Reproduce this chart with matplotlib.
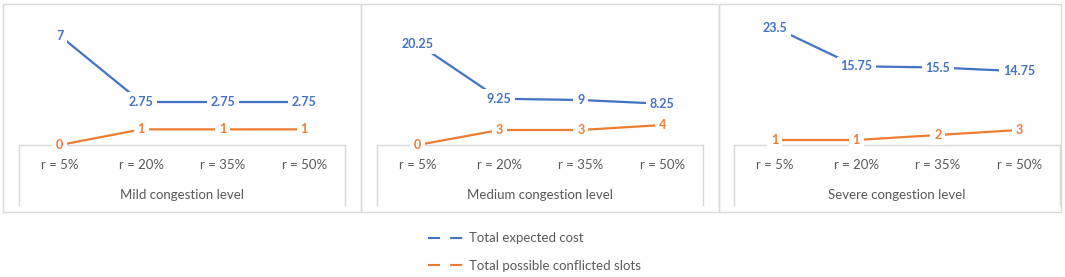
import matplotlib
matplotlib.use("Agg")
import matplotlib.pyplot as plt
from matplotlib.lines import Line2D
from matplotlib.patches import Rectangle
import matplotlib.transforms as mtransforms

plt.rcParams['font.family'] = ['Lato', 'DejaVu Sans']

# data
categories = ["r = 5%", "r = 20%", "r = 35%", "r = 50%"]
groups = ["Mild congestion level", "Medium congestion level", "Severe congestion level"]
expected_cost = [
    [7, 2.75, 2.75, 2.75],
    [20.25, 9.25, 9, 8.25],
    [23.5, 15.75, 15.5, 14.75],
]
conflicted_slots = [
    [0, 1, 1, 1],
    [0, 3, 3, 4],
    [1, 1, 2, 3],
]
series_names = ["Total expected cost", "Total possible conflicted slots"]
ymax = [8, 25, 25]

blue = "#4472C4"
orange = "#ED7D31"
text_grey = "#595959"
border = "#D9D9D9"

W, H = 1065, 277
fig = plt.figure(figsize=(W / 100, H / 100), dpi=100)

# panel frames (pixels)
panels = [(3, 361), (361, 719), (719, 1061)]
for x0, x1 in panels:
    fig.patches.append(Rectangle((x0 / W, 1 - 212 / H), (x1 - x0) / W, (212 - 4) / H,
                                 transform=fig.transFigure, fill=False,
                                 edgecolor=border, linewidth=1))

# plot areas: category box left edges, 326 px wide; y=0 at 145px, top at 20px
box_left = [19, 377, 734]
box_w = 326
y0_px, ytop_px = 145, 20

for k in range(3):
    ax = fig.add_axes([box_left[k] / W, 1 - y0_px / H, box_w / W, (y0_px - ytop_px) / H])
    x = list(range(len(categories)))
    ax.plot(x, expected_cost[k], color=blue, lw=1.6, solid_capstyle="butt", zorder=2)
    ax.plot(x, conflicted_slots[k], color=orange, lw=1.6, solid_capstyle="butt", zorder=2)
    ax.set_xlim(-0.5, 3.5)
    ax.set_ylim(0, ymax[k])
    for s in ax.spines.values():
        s.set_visible(False)
    ax.set_yticks([])
    ax.set_xticks(x)
    ax.set_xticklabels(categories, fontsize=9.5, color=text_grey)
    ax.tick_params(axis="x", length=0, pad=10)
    ax.patch.set_alpha(0)

    # multi-level category box
    trans = mtransforms.blended_transform_factory(ax.transData, ax.transAxes)
    bot = -(205 - y0_px) / (y0_px - ytop_px)
    ax.plot([-0.5, 3.5], [0, 0], color=border, lw=1, transform=trans, clip_on=False, zorder=0)
    ax.plot([-0.5, -0.5], [0, bot], color=border, lw=1, transform=trans, clip_on=False, zorder=0)
    ax.plot([3.5, 3.5], [0, bot], color=border, lw=1, transform=trans, clip_on=False, zorder=0)
    ax.text(1.5, -(195 - y0_px) / (y0_px - ytop_px), groups[k], transform=trans,
            ha="center", va="center", fontsize=9.5, color=text_grey)

    # data labels
    for series, col in ((expected_cost[k], blue), (conflicted_slots[k], orange)):
        for i, v in enumerate(series):
            ax.text(i, v, f"{v:g}", ha="center", va="center", fontsize=9,
                    fontweight="bold", color=col, zorder=3, clip_on=False,
                    bbox=dict(boxstyle="square,pad=0.3", fc="white", ec="none"))

handles = [Line2D([], [], color=blue, lw=1.5, linestyle=(0, (5.8, 4.8))),
           Line2D([], [], color=orange, lw=1.5, linestyle=(0, (5.8, 4.8)))]
fig.legend(handles, series_names, loc="center", bbox_to_anchor=(0.502, 1 - 252 / H),
           frameon=False, fontsize=9.5, handlelength=2.9, handletextpad=0.2,
           labelspacing=1.15, labelcolor=text_grey)

fig.savefig("out.png", dpi=100)
